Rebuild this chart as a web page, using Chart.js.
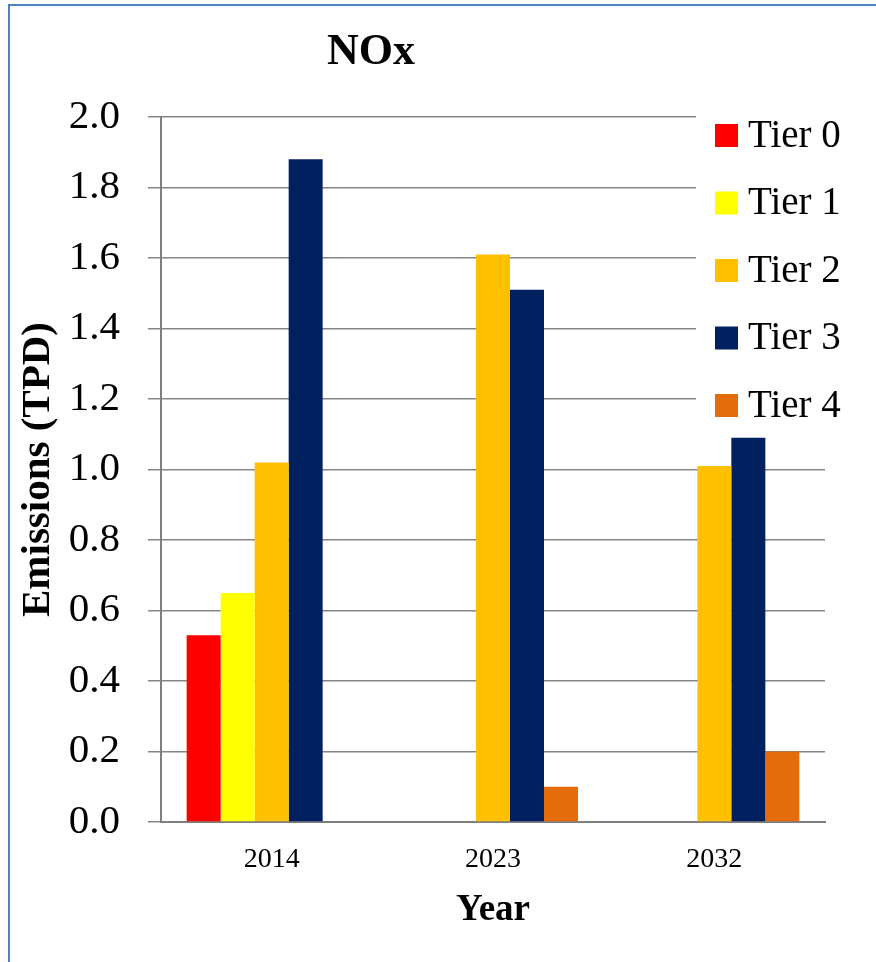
<!DOCTYPE html>
<html>
<head>
<meta charset="utf-8">
<script src="https://cdn.jsdelivr.net/npm/chart.js@4"></script>
<style>
  html, body { margin: 0; padding: 0; background: #fff; overflow: hidden; }
  #wrap { position: relative; width: 876px; height: 962px; }
</style>
</head>
<body>
<div id="wrap"><canvas id="chart" width="876" height="962"></canvas></div>
<script>
var SERIF = "'Liberation Serif', 'Times New Roman', serif";

// chart data
var years = ['2014', '2023', '2032'];
var tierNames = ['Tier 0', 'Tier 1', 'Tier 2', 'Tier 3', 'Tier 4'];
var tier0 = [0.53, 0, 0];
var tier1 = [0.65, 0, 0];
var tier2 = [1.02, 1.61, 1.01];
var tier3 = [1.88, 1.51, 1.09];
var tier4 = [0, 0.10, 0.20];
var tierColors = ['#ff0000', '#ffff00', '#ffc000', '#002060', '#e46c0a'];
var yTicks = [0, 0.2, 0.4, 0.6, 0.8, 1.0, 1.2, 1.4, 1.6, 1.8, 2.0];

var series = [tier0, tier1, tier2, tier3, tier4];

// frame + title drawn under everything
var framePlugin = {
  id: 'frame',
  beforeDraw: function(chart) {
    var ctx = chart.ctx;
    ctx.save();
    ctx.strokeStyle = '#4f81bd';
    ctx.lineWidth = 2;
    ctx.strokeRect(9, 5, 900, 1000);
    ctx.fillStyle = '#000';
    ctx.font = 'bold 44px ' + SERIF;
    ctx.textAlign = 'center';
    ctx.textBaseline = 'middle';
    ctx.fillText('NOx', 371, 53);
    ctx.restore();
  }
};

// legend sits on top of the plot, with white box hiding the grid
var legendPlugin = {
  id: 'sideLegend',
  afterDatasetsDraw: function(chart) {
    var ctx = chart.ctx;
    var x0 = 696, y0 = 108;
    ctx.save();
    ctx.fillStyle = '#fff';
    ctx.fillRect(x0, y0, 170, 318);
    ctx.font = '39px ' + SERIF;
    ctx.textBaseline = 'middle';
    ctx.textAlign = 'left';
    chart.data.datasets.forEach(function(ds, i) {
      var cy = 135.5 + i * 67.5;
      ctx.fillStyle = ds.backgroundColor;
      ctx.fillRect(715, cy - 11.5, 23, 23);
      ctx.fillStyle = '#000';
      ctx.fillText(ds.label, 748, cy + 1);
    });
    ctx.restore();
  }
};

var datasets = tierNames.map(function(name, i) {
  return {
    label: name,
    data: series[i],
    backgroundColor: tierColors[i],
    borderWidth: 0,
    categoryPercentage: 0.768,
    barPercentage: 1.0
  };
});

new Chart(document.getElementById('chart'), {
  type: 'bar',
  data: { labels: years, datasets: datasets },
  plugins: [framePlugin, legendPlugin],
  options: {
    responsive: false,
    animation: false,
    layout: { padding: { left: 10, right: 51, top: 117, bottom: 29 } },
    plugins: {
      legend: { display: false },
      title: { display: false },
      tooltip: { enabled: false }
    },
    scales: {
      x: {
        afterFit: function(axis) { axis.height = 111; },
        grid: { display: false, drawTicks: false },
        border: { display: true, color: '#7f7f7f', width: 2 },
        ticks: { color: '#000', padding: 21, font: { family: SERIF, size: 28 } },
        title: {
          display: true, text: 'Year', color: '#000',
          padding: { top: 10, bottom: 0 },
          font: { family: SERIF, size: 37, weight: 'bold' }
        }
      },
      y: {
        min: 0,
        max: 2.0,
        afterFit: function(axis) { axis.width = 151; },
        afterBuildTicks: function(axis) {
          axis.ticks = yTicks.map(function(v) { return { value: v }; });
        },
        grid: { color: '#868686', lineWidth: 1.5, tickLength: 13 },
        border: { display: true, color: '#7f7f7f', width: 2 },
        ticks: {
          color: '#000', padding: 28,
          font: { family: SERIF, size: 41 },
          callback: function(v) { return Number(v).toFixed(1); }
        },
        title: {
          display: true, text: 'Emissions (TPD)', color: '#000',
          padding: { top: 4, bottom: 4 },
          font: { family: SERIF, size: 41, weight: 'bold' }
        }
      }
    }
  }
});
</script>
</body>
</html>
